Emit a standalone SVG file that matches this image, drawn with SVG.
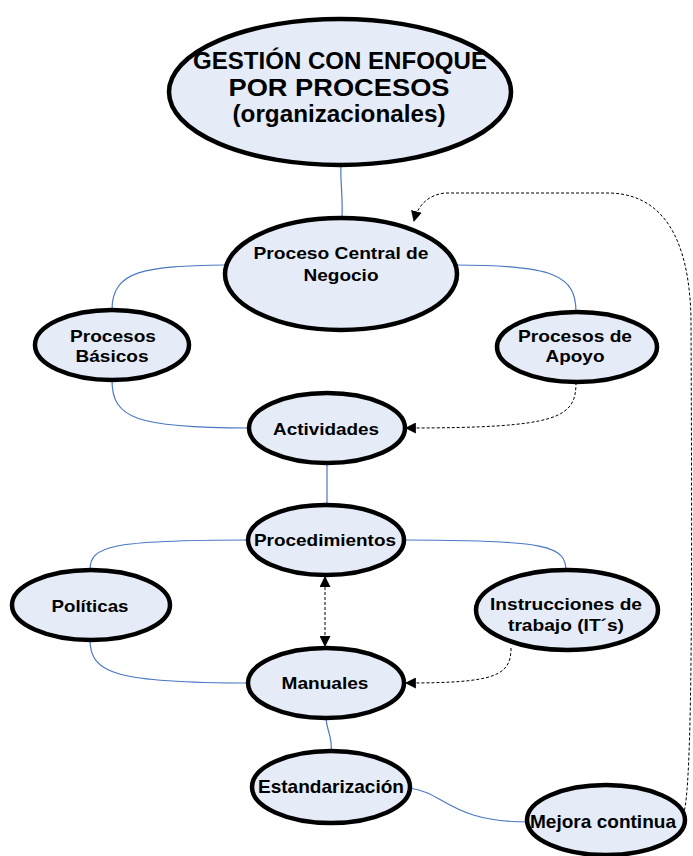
<svg xmlns="http://www.w3.org/2000/svg" width="693" height="856" viewBox="0 0 693 856">
<style>
.n ellipse{fill:#e6ecf7;stroke:#000;stroke-width:4.5}
.n text{font-family:"Liberation Sans",Arial,sans-serif;font-weight:bold;fill:#000;text-anchor:middle}
.t{font-size:17px}
.b{font-size:19px}
.blue{fill:none;stroke:#4a78c4;stroke-width:1.2}
.dash{fill:none;stroke:#000;stroke-width:1;stroke-dasharray:3,2}
</style>
<defs>
<marker id="ah" viewBox="0 0 10 10" refX="9" refY="5" markerWidth="11" markerHeight="11" markerUnits="userSpaceOnUse" orient="auto-start-reverse">
<path d="M0,0 L10,5 L0,10 Z" fill="#000"/>
</marker>
</defs>
<rect width="693" height="856" fill="#fff"/>
<g id="connectors">
<path class="blue" d="M341,165 C340,180 343,195 342,218"/>
<path class="blue" d="M226,265 C145,266 112,270 112,310"/>
<path class="blue" d="M456,265 C555,265 576,276 576,312"/>
<path class="blue" d="M112,380 C112,418 135,428 249,428"/>
<path class="blue" d="M327,462 L327,505"/>
<path class="blue" d="M249,540 C110,540 90,546 90,570"/>
<path class="blue" d="M404,540 C548,540 566,546 566,571"/>
<path class="blue" d="M90,640 C90,674 118,683 249,683"/>
<path class="blue" d="M326,718 C327,732 333,738 331,752"/>
<path class="blue" d="M409,788 C445,792 450,822 528,822"/>
<path class="dash" d="M576,382 C576,418 560,428 406,428" marker-end="url(#ah)"/>
<path class="dash" d="M511,648 C511,676 495,683 406,683" marker-end="url(#ah)"/>
<path class="dash" d="M325,577 L325,646" marker-start="url(#ah)" marker-end="url(#ah)"/>
<path class="dash" d="M683,815 C693,795 692,560 691,320 C690,260 675,195 610,193 L445,193 C428,195 418,205 414,221" marker-end="url(#ah)"/>
</g>
<g id="gestion" class="n">
<ellipse cx="340" cy="92" rx="171" ry="73"/>
<text x="340" y="69" style="font-size:23px" textLength="294" lengthAdjust="spacingAndGlyphs">GESTIÓN CON ENFOQUE</text>
<text x="339" y="96" style="font-size:23px" textLength="221" lengthAdjust="spacingAndGlyphs">POR PROCESOS</text>
<text x="339" y="122" style="font-size:23px" textLength="213" lengthAdjust="spacingAndGlyphs">(organizacionales)</text>
</g>
<g id="proceso-central" class="n">
<ellipse cx="341" cy="274" rx="116" ry="56"/>
<text class="t" x="341" y="259" textLength="175" lengthAdjust="spacingAndGlyphs">Proceso Central de</text>
<text class="t" x="341" y="281" textLength="75" lengthAdjust="spacingAndGlyphs">Negocio</text>
</g>
<g id="procesos-basicos" class="n">
<ellipse cx="112" cy="345" rx="77" ry="35"/>
<text class="t" x="113" y="342" textLength="86" lengthAdjust="spacingAndGlyphs">Procesos</text>
<text class="t" x="112" y="362" textLength="73" lengthAdjust="spacingAndGlyphs">Básicos</text>
</g>
<g id="procesos-apoyo" class="n">
<ellipse cx="577" cy="347" rx="80" ry="35"/>
<text class="t" x="575" y="342" textLength="114" lengthAdjust="spacingAndGlyphs">Procesos de</text>
<text class="t" x="575" y="362" textLength="59" lengthAdjust="spacingAndGlyphs">Apoyo</text>
</g>
<g id="actividades" class="n">
<ellipse cx="327" cy="428" rx="78" ry="35"/>
<text class="t" x="326" y="435" textLength="106" lengthAdjust="spacingAndGlyphs">Actividades</text>
</g>
<g id="procedimientos" class="n">
<ellipse cx="326" cy="540" rx="78" ry="35"/>
<text class="t" x="325" y="546" textLength="142" lengthAdjust="spacingAndGlyphs">Procedimientos</text>
</g>
<g id="politicas" class="n">
<ellipse cx="91" cy="605" rx="79" ry="35"/>
<text class="t" x="90" y="612" textLength="77" lengthAdjust="spacingAndGlyphs">Políticas</text>
</g>
<g id="instrucciones" class="n">
<ellipse cx="567" cy="610" rx="91" ry="40"/>
<text class="t" x="566" y="610" textLength="152" lengthAdjust="spacingAndGlyphs">Instrucciones de</text>
<text class="t" x="566" y="631" textLength="116" lengthAdjust="spacingAndGlyphs">trabajo (IT´s)</text>
</g>
<g id="manuales" class="n">
<ellipse cx="326" cy="683" rx="78" ry="35"/>
<text class="t" x="325" y="689" textLength="87" lengthAdjust="spacingAndGlyphs">Manuales</text>
</g>
<g id="estandarizacion" class="n">
<ellipse cx="331" cy="787" rx="79" ry="36"/>
<text class="b" x="331" y="793" textLength="146" lengthAdjust="spacingAndGlyphs">Estandarización</text>
</g>
<g id="mejora" class="n">
<ellipse cx="606" cy="820" rx="79" ry="35"/>
<text class="b" x="603" y="828" textLength="146" lengthAdjust="spacingAndGlyphs">Mejora continua</text>
</g>
</svg>
